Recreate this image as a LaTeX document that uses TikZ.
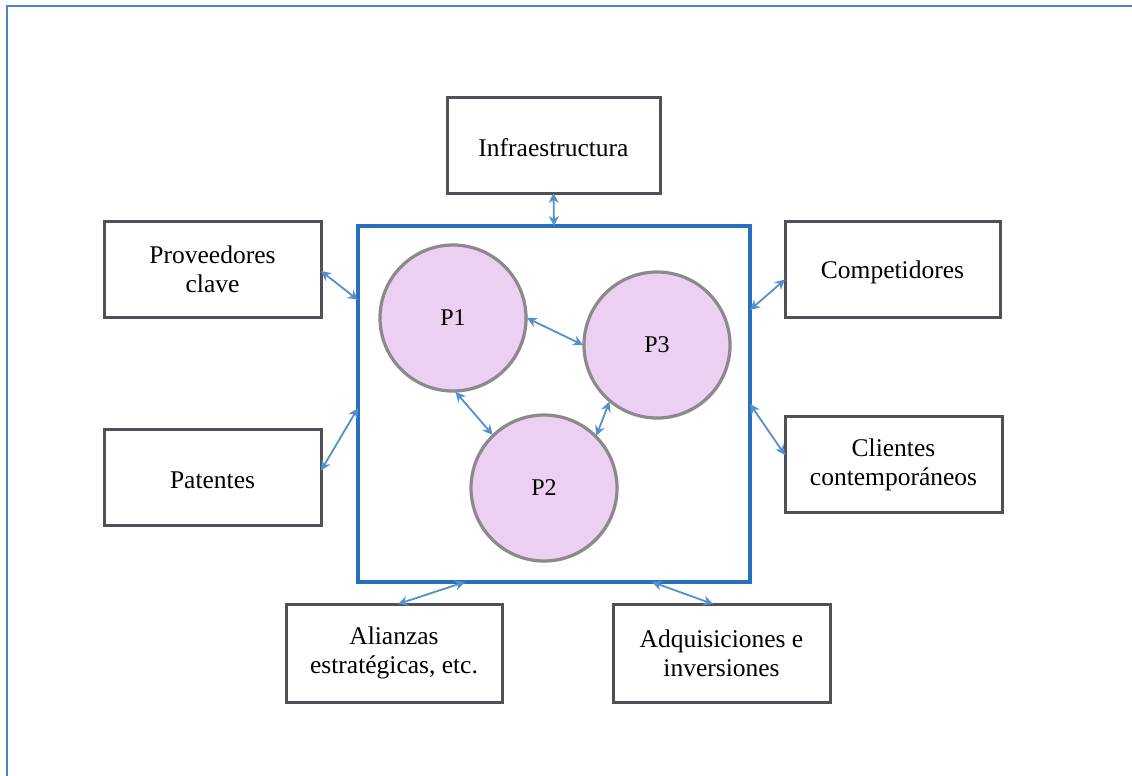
\documentclass[tikz,border=0pt]{standalone}
\usepackage{fontspec}
\setmainfont{Liberation Serif}
\usetikzlibrary{arrows.meta,shadows}

\definecolor{framecol}{RGB}{79,129,199}
\definecolor{corecol}{RGB}{38,112,190}
\definecolor{linkcol}{RGB}{84,144,206}
\definecolor{boxedge}{RGB}{80,80,86}
\definecolor{discfill}{RGB}{236,208,242}
\definecolor{discedge}{RGB}{140,136,142}

\tikzset{
  actor/.style={draw=boxedge, line width=3pt, fill=white,
    minimum width=215pt, minimum height=96pt, inner sep=0pt, outer sep=0pt,
    align=center, font=\fontsize{25.5}{29}\selectfont,
    drop shadow={shadow xshift=1.5pt, shadow yshift=-1.5pt, opacity=0.35}},
  oneline/.style={text height=23pt},
  core/.style={draw=corecol, line width=4pt, fill=white,
    minimum width=392pt, minimum height=356pt, inner sep=0pt, outer sep=0pt},
  disc/.style={circle, draw=discedge, line width=3.2pt, fill=discfill,
    minimum size=146pt, inner sep=0pt, outer sep=1pt,
    font=\fontsize{24}{28}\selectfont,
    drop shadow={shadow xshift=1.5pt, shadow yshift=-1.5pt, opacity=0.25}},
  link/.style={draw=linkcol, line width=1.8pt,
    {Stealth[length=10pt,width=10pt]}-{Stealth[length=10pt,width=10pt]}}
}

\begin{document}
\begin{tikzpicture}[x=1pt,y=-1pt]
  \useasboundingbox (0,0) rectangle (1132,776);
  \fill[white] (0,0) rectangle (1132,776);

  % page frame (left and top edges)
  \draw[framecol, line width=2.2pt] (7,776) -- (7,6) -- (1132,6);

  % central square with its three processes
  \node[core] (core) at (554,404) {};
  \node[disc] (p1) at (453,318) {P1};
  \node[disc] (p3) at (657,345) {P3};
  \node[disc] (p2) at (544,488) {P2};

  % surrounding actors
  \node[actor, oneline, minimum width=213pt] (infra) at (553.5,145) {Infraestructura};
  \node[actor, minimum width=217pt] (prov)  at (212.5,269) {Proveedores\\clave};
  \node[actor, oneline, minimum width=217pt] (pat)   at (212.5,477.5) {Patentes};
  \node[actor, oneline] (comp) at (892.5,269.5) {Competidores};
  \node[actor, minimum width=217pt] (cli)   at (893.5,464.5) {Clientes\\contemporáneos};
  \node[actor, minimum width=216pt, minimum height=98pt] (ali) at (394,653) {Alianzas\\estratégicas, etc.};
  \node[actor, minimum width=217pt, minimum height=98pt] (adq) at (721.5,653) {Adquisiciones e\\inversiones};

  % links between actors and the central square
  \draw[link] (infra.south) -- (core.north);
  \draw[link] ([yshift=-2pt]prov.east) -- ([yshift=104pt]core.west);
  \draw[link] ([yshift=7pt]pat.east) -- ([yshift=-4pt]core.west);
  \draw[link] ([yshift=94pt]core.east) -- ([yshift=-10pt]comp.west);
  \draw[link] ([yshift=0pt]core.east) -- ([yshift=9.5pt]cli.west);
  \draw[link] ([xshift=-89pt]core.south) -- ([xshift=4pt]ali.north);
  \draw[link] ([xshift=98pt]core.south) -- ([xshift=-8.5pt]adq.north);

  % links between processes
  \draw[link] (p1.east) -- (p3.west);
  \draw[link] (p1.-88) -- (p2.134);
  \draw[link] (p3.230) -- (p2.45);
\end{tikzpicture}
\end{document}
